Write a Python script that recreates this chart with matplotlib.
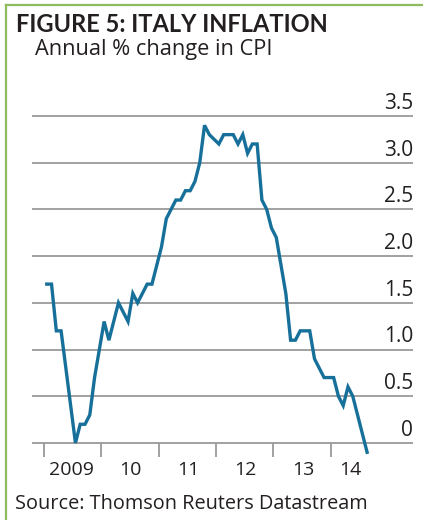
import numpy as np
import matplotlib
matplotlib.use('Agg')
import matplotlib.pyplot as plt
from matplotlib.lines import Line2D

# ── data: Italy CPI, annual % change, monthly Jan 2009 - Aug 2014 ────────────
CPI_2009 = [1.7, 1.7, 1.2, 1.2, 0.8, 0.4, 0.0, 0.2, 0.2, 0.3, 0.7, 1.0]
CPI_2010 = [1.3, 1.1, 1.3, 1.5, 1.4, 1.3, 1.6, 1.5, 1.6, 1.7, 1.7, 1.9]
CPI_2011 = [2.1, 2.4, 2.5, 2.6, 2.6, 2.7, 2.7, 2.8, 3.0, 3.4, 3.3, 3.25]
CPI_2012 = [3.2, 3.3, 3.3, 3.3, 3.2, 3.3, 3.1, 3.2, 3.2, 2.6, 2.5, 2.3]
CPI_2013 = [2.2, 1.9, 1.6, 1.1, 1.1, 1.2, 1.2, 1.2, 0.9, 0.8, 0.7, 0.7]
CPI_2014 = [0.7, 0.5, 0.4, 0.6, 0.5, 0.3, 0.1, -0.1]
YEAR_LABELS = ["2009", "10", "11", "12", "13", "14"]
Y_TICKS = [0, 0.5, 1.0, 1.5, 2.0, 2.5, 3.0, 3.5]
Y_LABELS = ["0", "0.5", "1.0", "1.5", "2.0", "2.5", "3.0", "3.5"]

cpi = np.array(CPI_2009 + CPI_2010 + CPI_2011 + CPI_2012 + CPI_2013 + CPI_2014)
months = np.arange(len(cpi))

TFONT = 'Lato'
FONT = 'Open Sans'
GRID = '#9a9a9a'
LINE = '#16709a'
TXT = '#231f20'

fig = plt.figure(figsize=(4.23, 5.20), dpi=100, facecolor='white')
ax = fig.add_axes([0.0757, 0.1212, 0.9007, 0.6648])

# ── gridlines ────────────────────────────────────────────────────────────────
for v in Y_TICKS:
    ax.axhline(v, color=GRID, lw=1.3, zorder=1)

# ── series ───────────────────────────────────────────────────────────────────
ax.plot(months, cpi, color=LINE, lw=2.4, solid_joinstyle='miter', zorder=5,
        clip_on=False)

# ── axes ─────────────────────────────────────────────────────────────────────
ax.set_xlim(-3.08, 76.6)
ax.set_ylim(-0.15, 3.55)
for s in ax.spines.values():
    s.set_visible(False)
ax.set_yticks([])

year_bounds = [12 * k - 0.6 for k in range(6)]
label_pos = [5.2, 17.5, 29.6, 41.6, 53.7, 63.4]
ax.set_xticks(year_bounds)
ax.set_xticklabels([])
ax.set_xticks(label_pos, minor=True)
ax.set_xticklabels(YEAR_LABELS, minor=True, fontsize=14, family=FONT, color=TXT)
ax.tick_params(axis='x', which='major', direction='in', length=10, width=1.3,
               color=GRID)
ax.tick_params(axis='x', which='minor', length=0, pad=3)

for v, lab in zip(Y_TICKS, Y_LABELS):
    ax.annotate(lab, xy=(1.0, v), xycoords=('axes fraction', 'data'),
                xytext=(0, 1.5), textcoords='offset points',
                ha='right', va='bottom', fontsize=15, family=FONT, color=TXT)

# ── titles / source ─────────────────────────────────────────────────────────
fig.text(16 / 423, 1 - 32 / 520, 'FIGURE 5: ITALY INFLATION', fontsize=17,
         fontweight='bold', family=TFONT, color=TXT, va='baseline', ha='left')
fig.text(35 / 423, 1 - 55 / 520, 'Annual % change in CPI', fontsize=15.7,
         family=FONT, color=TXT, va='baseline', ha='left')
fig.text(15 / 423, 1 - 509 / 520, 'Source: Thomson Reuters Datastream',
         fontsize=14.3, family=FONT, color=TXT, va='baseline', ha='left')

# ── green frame (left + top) ────────────────────────────────────────────────
fig.add_artist(Line2D([5.5 / 423, 5.5 / 423], [0, 1 - 5 / 520],
                      transform=fig.transFigure, color='#8dbb5e', lw=1.6))
fig.add_artist(Line2D([5.5 / 423, 1], [1 - 5 / 520, 1 - 5 / 520],
                      transform=fig.transFigure, color='#8dbb5e', lw=1.6))

fig.savefig('out.png', dpi=100, facecolor='white')
